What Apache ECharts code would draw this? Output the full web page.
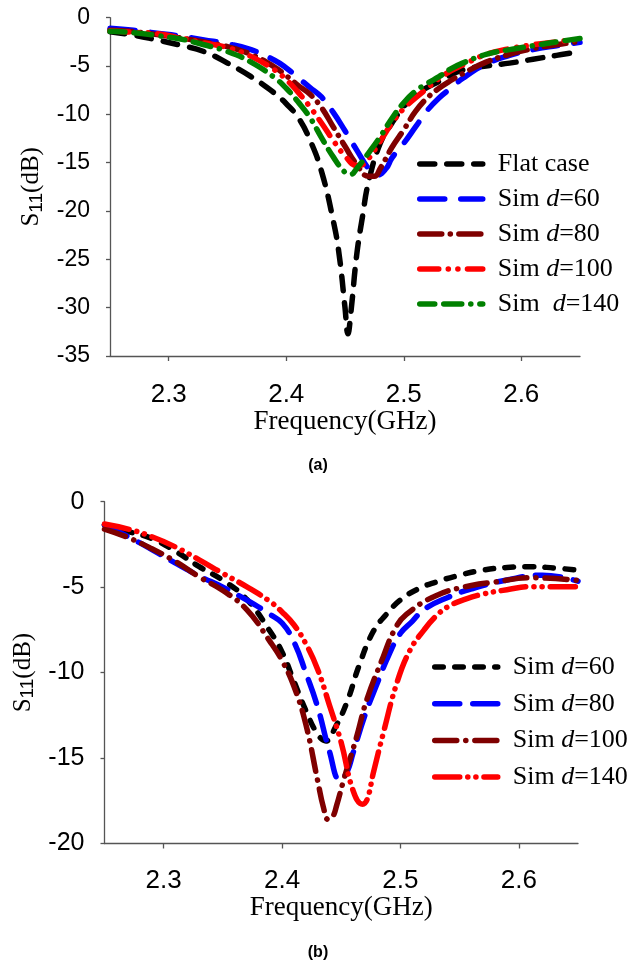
<!DOCTYPE html>
<html>
<head>
<meta charset="utf-8">
<script src="https://cdn.jsdelivr.net/npm/echarts@6/dist/echarts.min.js"></script>
<style>
  html, body { margin: 0; padding: 0; background: #fff; }
  #chart { width: 636px; height: 970px; }
</style>
</head>
<body>
<div id="chart"></div>
<script>
// Frequency tick labels (GHz) shared by both panels
const freqTicks = [2.3, 2.4, 2.5, 2.6];

// Panel (a): [frequency GHz, S11 dB]
const flatCase = [
  [2.25,-1.45],[2.27,-1.8],[2.29,-2.3],[2.31,-2.85],[2.33,-3.5],[2.35,-4.7],
  [2.37,-6.1],[2.39,-7.8],[2.40,-8.9],[2.41,-10.3],[2.42,-12.6],[2.43,-15.9],
  [2.44,-21.0],[2.445,-24.5],[2.45,-30.0],[2.4525,-32.7],[2.455,-30.5],[2.46,-24.5],
  [2.465,-20.5],[2.47,-17.0],[2.48,-13.0],[2.49,-10.9],[2.50,-9.2],[2.51,-8.0],
  [2.52,-7.2],[2.53,-6.6],[2.55,-5.4],[2.57,-5.0],[2.59,-4.7],[2.61,-4.3],
  [2.63,-3.9],[2.65,-3.5]
];
const simA60 = [
  [2.25,-1.1],[2.27,-1.3],[2.29,-1.6],[2.31,-1.9],[2.33,-2.3],[2.35,-2.7],
  [2.37,-3.3],[2.39,-4.4],[2.40,-5.2],[2.41,-6.2],[2.42,-7.2],[2.43,-8.2],
  [2.44,-9.8],[2.45,-11.7],[2.46,-13.7],[2.47,-15.6],[2.477,-16.3],[2.485,-15.6],
  [2.49,-14.5],[2.50,-13.0],[2.51,-11.3],[2.52,-9.6],[2.53,-8.3],[2.54,-7.3],
  [2.55,-6.3],[2.57,-4.8],[2.59,-3.9],[2.61,-3.3],[2.63,-2.9],[2.65,-2.55]
];
const simA80 = [
  [2.25,-1.3],[2.27,-1.45],[2.29,-1.75],[2.31,-2.1],[2.33,-2.5],[2.35,-3.0],
  [2.37,-3.8],[2.39,-5.1],[2.40,-6.0],[2.41,-7.0],[2.42,-7.9],[2.43,-9.3],
  [2.44,-11.3],[2.45,-13.3],[2.46,-15.2],[2.47,-16.4],[2.475,-16.4],[2.48,-15.6],
  [2.49,-13.4],[2.50,-11.6],[2.51,-9.7],[2.52,-8.3],[2.53,-7.3],[2.54,-6.5],
  [2.55,-5.8],[2.57,-4.6],[2.59,-3.8],[2.61,-3.2],[2.63,-2.8],[2.65,-2.45]
];
const simA100 = [
  [2.25,-1.35],[2.27,-1.5],[2.29,-1.65],[2.31,-2.1],[2.33,-2.6],[2.35,-3.1],
  [2.37,-4.0],[2.39,-5.4],[2.40,-6.4],[2.41,-7.7],[2.42,-9.2],[2.43,-10.9],
  [2.44,-12.7],[2.45,-14.3],[2.46,-15.3],[2.465,-15.2],[2.47,-14.6],[2.48,-12.8],
  [2.49,-10.9],[2.50,-9.4],[2.51,-8.3],[2.52,-7.3],[2.53,-6.3],[2.54,-5.5],
  [2.55,-4.9],[2.57,-3.8],[2.59,-3.2],[2.61,-2.8],[2.63,-2.5],[2.65,-2.2]
];
const simA140 = [
  [2.25,-1.4],[2.27,-1.55],[2.29,-1.85],[2.31,-2.2],[2.33,-2.8],[2.35,-3.5],
  [2.37,-4.6],[2.39,-6.2],[2.40,-7.3],[2.41,-8.7],[2.42,-10.3],[2.43,-12.4],
  [2.44,-14.4],[2.45,-16.0],[2.455,-16.2],[2.46,-15.6],[2.47,-14.0],[2.48,-12.3],
  [2.49,-10.4],[2.50,-8.8],[2.51,-7.6],[2.52,-6.8],[2.53,-6.1],[2.54,-5.3],
  [2.55,-4.7],[2.57,-3.8],[2.59,-3.3],[2.61,-2.9],[2.63,-2.5],[2.65,-2.15]
];

// Panel (b): [frequency GHz, S11 dB]
const simB60 = [
  [2.25,-1.35],[2.27,-1.75],[2.29,-2.15],[2.31,-2.9],[2.33,-3.8],[2.35,-4.6],
  [2.37,-5.7],[2.39,-7.6],[2.40,-8.8],[2.41,-10.5],[2.42,-12.2],[2.43,-13.6],
  [2.437,-14.0],[2.445,-13.2],[2.455,-11.7],[2.465,-9.6],[2.477,-7.6],[2.488,-6.6],
  [2.50,-5.75],[2.515,-5.1],[2.53,-4.7],[2.55,-4.3],[2.57,-4.0],[2.59,-3.85],
  [2.61,-3.8],[2.63,-3.88],[2.65,-4.0]
];
const simB80 = [
  [2.25,-1.35],[2.27,-2.05],[2.29,-2.8],[2.31,-3.6],[2.33,-4.35],[2.35,-5.0],
  [2.37,-5.75],[2.39,-6.6],[2.40,-7.1],[2.41,-8.2],[2.42,-10.0],[2.43,-12.0],
  [2.44,-14.6],[2.449,-16.3],[2.455,-15.8],[2.46,-14.7],[2.47,-12.5],[2.48,-10.7],
  [2.49,-9.0],[2.50,-7.7],[2.51,-7.0],[2.52,-6.3],[2.54,-5.6],[2.56,-5.1],
  [2.59,-4.58],[2.62,-4.3],[2.65,-4.65]
];
const simB100 = [
  [2.25,-1.6],[2.27,-2.1],[2.29,-2.75],[2.31,-3.5],[2.33,-4.4],[2.35,-5.2],
  [2.37,-6.3],[2.39,-8.2],[2.40,-9.3],[2.41,-10.8],[2.42,-13.0],[2.43,-16.3],
  [2.435,-17.9],[2.439,-18.6],[2.443,-18.4],[2.446,-17.8],[2.452,-16.3],[2.463,-13.75],
  [2.4715,-11.6],[2.4855,-9.07],[2.495,-7.5],[2.505,-6.6],[2.53,-5.5],[2.56,-4.9],
  [2.58,-4.7],[2.61,-4.45],[2.65,-4.6]
];
const simB140 = [
  [2.25,-1.3],[2.27,-1.6],[2.29,-2.05],[2.31,-2.65],[2.33,-3.4],[2.35,-4.2],
  [2.37,-4.97],[2.39,-5.85],[2.40,-6.45],[2.41,-7.2],[2.42,-8.3],[2.43,-9.8],
  [2.44,-11.9],[2.45,-14.1],[2.46,-16.9],[2.468,-17.7],[2.472,-17.4],[2.477,-15.9],
  [2.4855,-13.55],[2.497,-10.6],[2.508,-8.7],[2.52,-7.5],[2.53,-6.7],[2.54,-6.15],
  [2.555,-5.7],[2.57,-5.4],[2.59,-5.15],[2.61,-4.97],[2.65,-4.97]
];

// Legend captions per series id
const labelsA = { a0: 'Flat case', a1: 'Sim {i|d}=60', a2: 'Sim {i|d}=80', a3: 'Sim {i|d}=100', a4: 'Sim  {i|d}=140' };
const labelsB = { b1: 'Sim {i|d}=60', b2: 'Sim {i|d}=80', b3: 'Sim {i|d}=100', b4: 'Sim {i|d}=140' };

const SERIF = '"Liberation Serif", "Times New Roman", serif';
const SANS = '"Liberation Sans", Arial, sans-serif';
const LINE_W = 5.5;

function line(id, data, color, dash, panel) {
  return {
    type: 'line', name: id, data: data,
    xAxisIndex: panel, yAxisIndex: panel,
    symbol: 'none', showSymbol: false,
    smooth: 0.45,
    lineStyle: { color: color, width: LINE_W, type: dash, cap: 'round', join: 'round' },
    itemStyle: { color: color },
    emphasis: { disabled: true },
    animation: false
  };
}

function xAxisFor(grid, labelMargin, nameGap) {
  return {
    type: 'value', gridIndex: grid, min: 2.25, max: 2.65,
    name: 'Frequency(GHz)', nameLocation: 'middle', nameGap: nameGap,
    nameTextStyle: { fontFamily: SERIF, fontSize: 27, color: '#000' },
    axisLine: { show: true, onZero: false, lineStyle: { color: '#555', width: 1.3 } },
    axisTick: { show: true, length: 5, customValues: freqTicks, lineStyle: { color: '#555', width: 1.3 } },
    axisLabel: { customValues: freqTicks, margin: labelMargin, fontFamily: SANS, fontSize: 26, color: '#000',
                 formatter: v => v.toFixed(1) },
    splitLine: { show: false }
  };
}

function yAxisFor(grid, minV, fontSize, nameGap) {
  return {
    type: 'value', gridIndex: grid, min: minV, max: 0, interval: 5,
    name: '{s|S}{b|11}{n|(dB)}', nameLocation: 'middle', nameGap: nameGap, nameRotate: 90,
    nameTextStyle: {
      color: '#000',
      rich: {
        s: { fontFamily: SERIF, fontSize: 25, color: '#000' },
        b: { fontFamily: SANS, fontSize: 19, color: '#000', padding: [9, 0, 0, 0] },
        n: { fontFamily: SERIF, fontSize: 25, color: '#000' }
      }
    },
    axisLine: { show: true, onZero: false, lineStyle: { color: '#555', width: 1.3 } },
    axisTick: { show: true, length: 4, lineStyle: { color: '#555', width: 1.3 } },
    axisLabel: { margin: 20, fontFamily: SANS, fontSize: fontSize, color: '#000' },
    splitLine: { show: false }
  };
}

function legendFor(ids, labels, left, top, gap) {
  return {
    orient: 'vertical', left: left, top: top,
    data: ids, selectedMode: false,
    itemWidth: 63, itemHeight: 10, itemGap: gap,
    formatter: n => labels[n],
    // line sample only, no marker dot
    itemStyle: { opacity: 0, borderWidth: 0 },
    lineStyle: { width: LINE_W, cap: 'round' },
    textStyle: {
      fontFamily: SERIF, fontSize: 26, lineHeight: 26, color: '#000',
      padding: [0, 0, 0, 10],
      rich: { i: { fontFamily: SERIF, fontSize: 26, fontStyle: 'italic', color: '#000' } }
    }
  };
}

const chart = echarts.init(document.getElementById('chart'), null, { renderer: 'canvas' });

chart.setOption({
  backgroundColor: '#fff',
  animation: false,
  title: [
    { text: '(a)', left: 'center', top: 453, textStyle: { fontFamily: SANS, fontSize: 16, fontWeight: 'bold', color: '#000' } },
    { text: '(b)', left: 'center', top: 940, textStyle: { fontFamily: SANS, fontSize: 16, fontWeight: 'bold', color: '#000' } }
  ],
  grid: [
    { left: 110, top: 17.7, width: 470, height: 338.3 },
    { left: 104.5, top: 501.7, width: 473.5, height: 341.8 }
  ],
  xAxis: [xAxisFor(0, 26, 50), xAxisFor(1, 24, 49)],
  yAxis: [yAxisFor(0, -35, 23, 57), yAxisFor(1, -20, 25, 62)],
  legend: [
    legendFor(['a0', 'a1', 'a2', 'a3', 'a4'], labelsA, 412, 146, 9),
    legendFor(['b1', 'b2', 'b3', 'b4'], labelsB, 427, 649, 10.7)
  ],
  series: [
    line('a0', flatCase, '#000000', [15, 12], 0),
    line('a1', simA60, '#0000ff', [25, 16], 0),
    line('a2', simA80, '#7f0000', [22, 8.5, 0.1, 8.5], 0),
    line('a3', simA100, '#ff0000', [19, 9.5, 0.1, 9.5, 0.1, 9.5], 0),
    line('a4', simA140, '#008000', [15, 9, 18, 9, 0.1, 9], 0),
    line('b1', simB60, '#000000', [8.5, 11.5], 1),
    line('b2', simB80, '#0000ff', [25, 13], 1),
    line('b3', simB100, '#7f0000', [22, 9, 0.1, 9], 1),
    line('b4', simB140, '#ff0000', [25, 8, 0.1, 8, 0.1, 8], 1)
  ]
});
</script>
</body>
</html>
